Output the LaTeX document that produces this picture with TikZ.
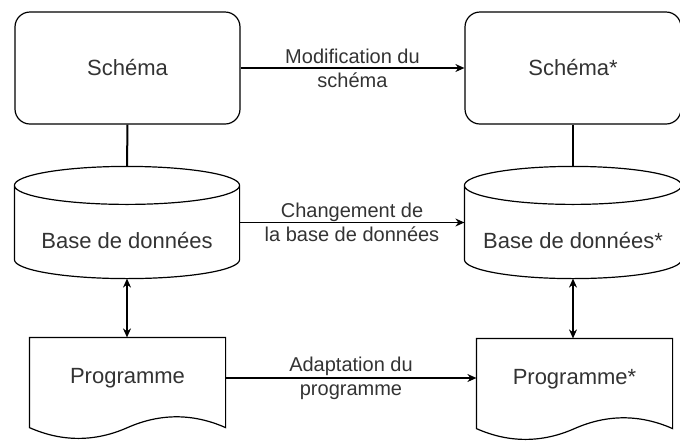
\documentclass[tikz,border=0pt]{standalone}
\usepackage{fontspec}
\setmainfont{Liberation Sans}
\usetikzlibrary{arrows.meta,calc}

\tikzstyle{schema}=[draw,rounded corners=15pt,minimum height=112pt,inner sep=0pt,text=black!80]
\tikzstyle{base}=[minimum height=111pt,inner sep=0pt,text height=55pt,text depth=4pt,text=black!80]
\tikzstyle{programme}=[minimum width=195pt,minimum height=80pt,inner sep=0pt,text=black!80]
\tikzstyle{change} = [draw,line width=1.2pt,-{Stealth[length=9pt,width=8pt]}]
\tikzstyle{access} = [draw,line width=1.2pt,{Stealth[length=9pt,width=8pt]}-{Stealth[length=9pt,width=8pt]}]
\tikzstyle{link} = [draw,line width=2pt,-]
\tikzstyle{weight} = [font=\fontsize{20}{24}\selectfont,align=center,text=black!80]

\begin{document}
\begin{tikzpicture}[x=1pt,y=-1pt,line width=1.2pt,font=\fontsize{22}{26}\selectfont]
  \useasboundingbox (0,0) rectangle (680,440);
  % First we draw the schemas, bases and programmes
  \foreach \pos/\name/\w/\la in {{(127.5,68)/schema1/225/Schéma}, {(573,68)/schema2/216/Schéma*}}
    \node[schema,minimum width=\w pt] (\name) at \pos {\la};
  \foreach \pos/\name/\w/\la in {{(127,222.5)/base1/224/Base de données}, {(573,222.5)/base2/216/Base de données*}}
    \node[base,minimum width=\w pt] (\name) at \pos {\la};
  \foreach \pos/\name/\la in {{(127.5,378)/prog1/Programme}, {(574.5,379)/prog2/Programme*}}
    \node[programme] (\name) at \pos {\la};
  % Cylinder outline of the bases
  \foreach \b in {base1,base2}
    \draw let \p1 = ($(\b.east)-(\b.west)$) in
      ($(\b.north west)+(0,19)$) -- ($(\b.south west)+(0,-19)$)
      arc[start angle=180,end angle=360,x radius=0.5*\x1,y radius=19pt]
      -- ($(\b.north east)+(0,19)$)
      ($(\b.north)+(0,19)$) ellipse [x radius=0.5*\x1,y radius=19pt];
  % Document outline with the wavy bottom
  \foreach \n in {prog1,prog2}
    \draw (\n.south west) -- (\n.north west) -- (\n.north east) -- ($(\n.south east)+(0,9)$)
      .. controls ($(\n.south east)+(-32.5,-5.4)$) and ($(\n.south)+(32.5,-5.4)$) .. ($(\n.south)+(0,9)$)
      .. controls ($(\n.south)+(-32.5,23.4)$) and ($(\n.south west)+(32.5,23.4)$) .. ($(\n.south west)+(0,9)$)
      -- cycle;
  % Connect them and write the changes
  \foreach \source/\dest in {schema1/base1, schema2/base2}
    \path[link] (\source.south) -- (\dest.north);
  \foreach \source/\dest in {base1/prog1, base2/prog2}
    \path[access] (\source.south) -- (\source.south |- \dest.north);
  \path[change] (schema1) -- node[weight]{Modification du\\schéma} (schema2);
  \path[change] (base1) -- node[weight]{Changement de\\la base de données} (base2);
  \path[change] (prog1.east) -- node[weight]{Adaptation du\\programme} (prog1.east -| prog2.west);
\end{tikzpicture}
\end{document}
